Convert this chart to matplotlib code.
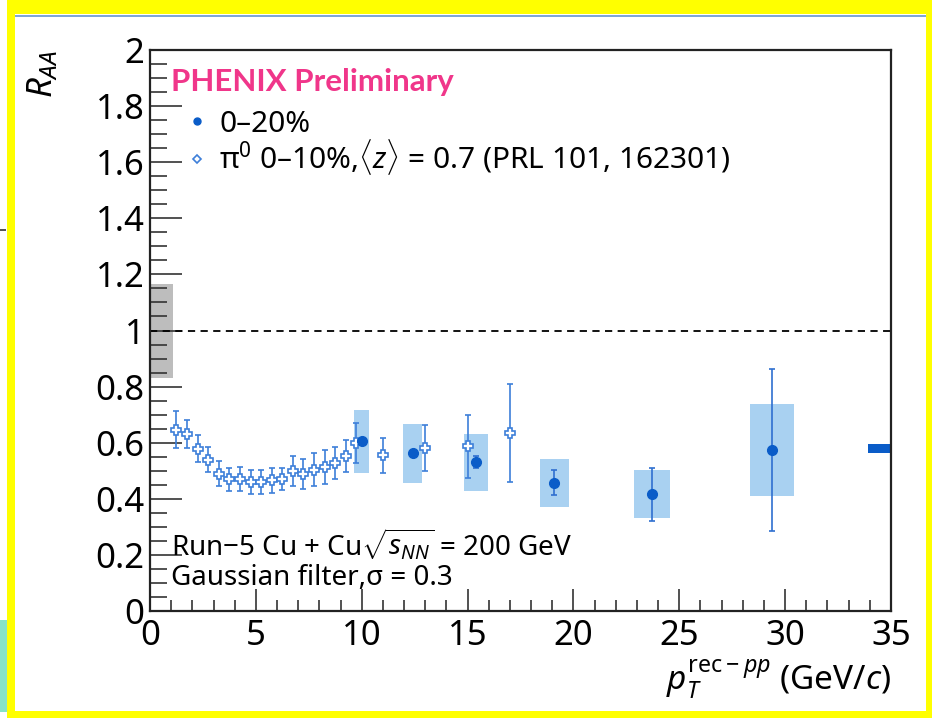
import matplotlib
matplotlib.use("Agg")
import matplotlib.pyplot as plt
from matplotlib.patches import Rectangle
from matplotlib.lines import Line2D
from matplotlib.ticker import MultipleLocator

plt.rcParams['font.family'] = ['Noto Sans', 'DejaVu Sans']
plt.rcParams['mathtext.fontset'] = 'custom'
plt.rcParams['mathtext.rm'] = 'Noto Sans'
plt.rcParams['mathtext.it'] = 'Noto Sans:italic'
plt.rcParams['mathtext.bf'] = 'Noto Sans:bold'

# pi0 0-10% reference points
pi0_pt = [1.25, 1.75, 2.25, 2.75, 3.25, 3.75, 4.25, 4.75, 5.25, 5.75, 6.25, 6.75,
          7.25, 7.75, 8.25, 8.75, 9.25, 9.75, 11.0, 13.0, 15.0, 17.0]
pi0_raa = [0.647, 0.632, 0.579, 0.540, 0.490, 0.470, 0.472, 0.460, 0.460, 0.466, 0.470, 0.498,
           0.488, 0.504, 0.514, 0.528, 0.552, 0.599, 0.555, 0.581, 0.587, 0.635]
pi0_err = [0.066, 0.050, 0.048, 0.046, 0.043, 0.041, 0.043, 0.042, 0.043, 0.045, 0.040, 0.053,
           0.053, 0.058, 0.060, 0.058, 0.058, 0.072, 0.063, 0.081, 0.112, 0.176]

# jet 0-20% points
jet_pt = [10.0, 12.4, 15.4, 19.1, 23.7, 29.4]
jet_raa = [0.606, 0.564, 0.531, 0.457, 0.416, 0.575]
jet_stat = [0.0, 0.0, 0.022, 0.045, 0.094, 0.289]
jet_sys_lo = [0.492, 0.457, 0.429, 0.372, 0.330, 0.410]
jet_sys_hi = [0.718, 0.668, 0.632, 0.541, 0.502, 0.739]
jet_box_w = [0.71, 0.86, 1.13, 1.38, 1.70, 2.08]

# global normalisation uncertainties
ncoll_box = (0.0, 1.1, 0.831, 1.166)
pp_box = (33.9, 35.0, 0.565, 0.597)

W, H = 932, 718
fig = plt.figure(figsize=(W / 100, H / 100), dpi=100)
fig.patch.set_facecolor('white')


def px_rect(x0, y0, x1, y1, color):
    fig.patches.append(Rectangle((x0 / W, 1 - y1 / H), (x1 - x0) / W, (y1 - y0) / H,
                                 transform=fig.transFigure, facecolor=color,
                                 edgecolor='none', zorder=0))


# slide remnants and yellow frame
px_rect(0, 620, 7, 712, '#86e3c6')
px_rect(0, 229, 6, 231, '#555555')
px_rect(15, 15, 926, 17, '#7fa6d6')
px_rect(7, 0, 932, 14, '#ffff00')
px_rect(7, 0, 15, 718, '#ffff00')
px_rect(926, 0, 932, 718, '#ffff00')
px_rect(7, 711, 932, 718, '#ffff00')

ax = fig.add_axes([150 / W, 1 - 611 / H, 741 / W, 561 / H])
ax.set_xlim(0, 35)
ax.set_ylim(0, 2)

light = '#a9d1f1'
dark = '#0a5cc8'
openc = '#3d7fd9'

ax.add_patch(Rectangle((ncoll_box[0], ncoll_box[2]), ncoll_box[1] - ncoll_box[0],
                       ncoll_box[3] - ncoll_box[2], facecolor='#bdbdbd', edgecolor='none', zorder=1))
ax.add_patch(Rectangle((pp_box[0], pp_box[2]), pp_box[1] - pp_box[0],
                       pp_box[3] - pp_box[2], facecolor=dark, edgecolor='none', zorder=1))
ax.axhline(1.0, color='black', linestyle=(0, (4, 3)), linewidth=1.3, zorder=2)

for x, lo, hi, w in zip(jet_pt, jet_sys_lo, jet_sys_hi, jet_box_w):
    ax.add_patch(Rectangle((x - w / 2, lo), w, hi - lo, facecolor=light,
                           edgecolor='none', zorder=2))

ax.errorbar(pi0_pt, pi0_raa, yerr=pi0_err, fmt='P', color=openc, mfc='white', mec=openc,
            mew=1.2, ms=7.5, elinewidth=1.2, capsize=2.5, capthick=1.2, zorder=3)
ax.errorbar(jet_pt, jet_raa, yerr=jet_stat, fmt='o', color=dark, ms=7, elinewidth=1.2,
            ecolor='#2f6fd0', capsize=2.5, capthick=1.2, zorder=4)

# axes style
ax.xaxis.set_major_locator(MultipleLocator(5))
ax.xaxis.set_minor_locator(MultipleLocator(1))
ax.yaxis.set_major_locator(MultipleLocator(0.2))
ax.yaxis.set_minor_locator(MultipleLocator(0.05))
ax.tick_params(which='both', direction='in', top=False, right=False, labelsize=25,
               width=1.2, color='#333333')
ax.tick_params(axis='x', which='major', length=16, pad=6)
ax.tick_params(axis='x', which='minor', length=8)
ax.tick_params(axis='y', which='major', length=23, pad=4)
ax.tick_params(axis='y', which='minor', length=12)
ax.set_xticks([0, 5, 10, 15, 20, 25, 30, 35])
ax.set_xticklabels(['0', '5', '10', '15', '20', '25', '30', '35'])
ax.set_yticks([0, 0.2, 0.4, 0.6, 0.8, 1, 1.2, 1.4, 1.6, 1.8, 2])
ax.set_yticklabels(['0', '0.2', '0.4', '0.6', '0.8', '1', '1.2', '1.4', '1.6', '1.8', '2'])
for s in ax.spines.values():
    s.set_linewidth(1.6)
    s.set_color('#222222')

ax.text(-0.145, 1.0, r'$R_{AA}$', transform=ax.transAxes, rotation=90, fontsize=25,
        ha='center', va='top')
ax.text(1.0, -0.082, r'$p_T^{\mathrm{rec}-pp}$ (GeV/$c$)', transform=ax.transAxes,
        fontsize=24, ha='right', va='top')

ax.text(1.0, 1.885, 'PHENIX Preliminary', color='#f0368a', fontsize=22.5,
        family=['Lato', 'DejaVu Sans'], fontweight='bold', va='center', ha='left')

handles = [
    Line2D([], [], marker='o', linestyle='none', color=dark, ms=5),
    Line2D([], [], marker='D', linestyle='none', mfc='white', mec=openc, mew=1.2, ms=4.5),
]
labels = ['0\u201320%', 'π$^0$ 0\u201310%,$\\langle z\\rangle$ = 0.7 (PRL 101, 162301)']
ax.legend(handles, labels, loc='upper left', bbox_to_anchor=(0.035, 0.915), frameon=False,
          fontsize=21.5, handlelength=0.6, handletextpad=0.45, labelspacing=-0.05,
          borderaxespad=0)

ax.text(1.0, 0.235, 'Run\u22125 Cu + Cu$\\sqrt{s_{NN}}$ = 200 GeV', fontsize=20,
        va='center', ha='left')
ax.text(1.0, 0.117, 'Gaussian filter,σ = 0.3', fontsize=20, va='center', ha='left')

fig.savefig('out.png', dpi=100)
